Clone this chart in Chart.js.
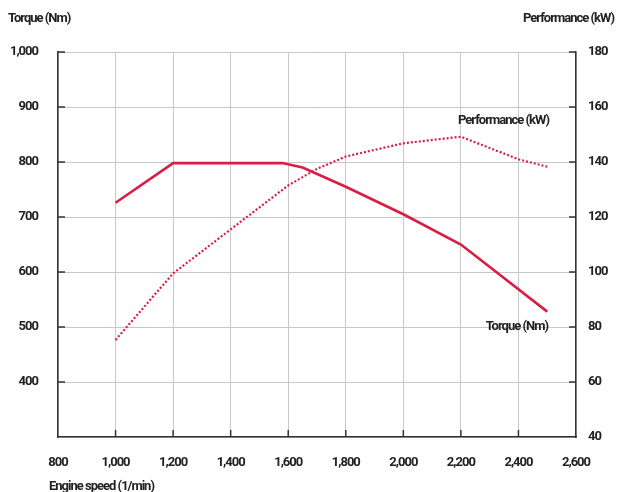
<!DOCTYPE html>
<html>
<head>
<meta charset="utf-8">
<script src="https://cdn.jsdelivr.net/npm/chart.js@4/dist/chart.umd.min.js"></script>
<style>
  html, body { margin: 0; padding: 0; background: #fff; }
  canvas { display: block; }
</style>
</head>
<body>
<canvas id="engineChart" width="617" height="492"></canvas>
<script>
const speedTicks = [800, 1000, 1200, 1400, 1600, 1800, 2000, 2200, 2400, 2600];
const torqueTicks = [400, 500, 600, 700, 800, 900, 1000];
const powerTicks = [40, 60, 80, 100, 120, 140, 160, 180];

const torqueSpeed = [1000, 1200, 1580, 1650, 1800, 2000, 2200, 2500];
const torqueValues = [726, 798, 798, 790, 755, 705, 650, 528];

const powerSpeed = [1000, 1200, 1400, 1600, 1700, 1800, 2000, 2200, 2400, 2500];
const powerValues = [75.3, 99.5, 115.5, 131.5, 137.5, 142, 146.8, 149.2, 141, 138.3];

const RED = '#d81e45';
const FONT = "Roboto, 'Liberation Sans', sans-serif";
const fmt = v => v.toLocaleString('en-US');

const labelsPlugin = {
  id: 'labels',
  beforeDraw(chart) {
    chart.ctx.letterSpacing = '-1px';
  },
  afterDraw(chart) {
    const { ctx, chartArea, scales } = chart;
    ctx.save();
    ctx.fillStyle = '#222';
    ctx.font = `bold 13px ${FONT}`;
    ctx.textBaseline = 'middle';

    // short inner tick marks on the axes
    ctx.strokeStyle = '#333';
    ctx.lineWidth = 1.5;
    torqueTicks.forEach(t => {
      const y = scales.y.getPixelForValue(t);
      ctx.beginPath();
      ctx.moveTo(chartArea.left, y);
      ctx.lineTo(chartArea.left + 7, y);
      ctx.stroke();
      ctx.beginPath();
      ctx.moveTo(chartArea.right, y);
      ctx.lineTo(chartArea.right - 7, y);
      ctx.stroke();
    });
    speedTicks.slice(1, -1).forEach(t => {
      const x = scales.x.getPixelForValue(t);
      ctx.beginPath();
      ctx.moveTo(x, chartArea.bottom);
      ctx.lineTo(x, chartArea.bottom - 7);
      ctx.stroke();
    });

    ctx.textAlign = 'left';
    ctx.fillText('Torque (Nm)', 8, 19);
    ctx.fillText('Engine speed (1/min)', 49, 487);
    ctx.textAlign = 'right';
    ctx.fillText('Performance (kW)', 614, 19);
    ctx.fillText('Performance (kW)', 549, 121);
    ctx.fillText('Torque (Nm)', 548, 327);
    ctx.restore();
  }
};

const tickFont = { family: FONT, size: 13, weight: 'bold' };

new Chart(document.getElementById('engineChart'), {
  type: 'line',
  data: {
    datasets: [
      {
        label: 'Torque (Nm)',
        data: torqueSpeed.map((x, i) => ({ x, y: torqueValues[i] })),
        borderColor: RED,
        borderWidth: 2.6,
        pointRadius: 0,
        tension: 0,
        yAxisID: 'y',
      },
      {
        label: 'Performance (kW)',
        data: powerSpeed.map((x, i) => ({ x, y: powerValues[i] })),
        borderColor: RED,
        borderWidth: 2.2,
        borderDash: [2, 2],
        pointRadius: 0,
        tension: 0,
        yAxisID: 'y1',
      },
    ],
  },
  options: {
    responsive: false,
    animation: false,
    layout: { padding: { top: 52, right: 0, left: 0, bottom: 0 } },
    plugins: {
      legend: { display: false },
      tooltip: { enabled: false },
    },
    scales: {
      x: {
        type: 'linear',
        min: 800,
        max: 2600,
        afterBuildTicks: scale => { scale.ticks = speedTicks.map(value => ({ value })); },
        afterFit: scale => { scale.height = 55; },
        ticks: {
          callback: fmt,
          color: '#222',
          padding: 18,
          maxRotation: 0,
          font: tickFont,
        },
        grid: { color: '#c8c8c8', drawTicks: false },
        border: { color: '#333', width: 1.5 },
      },
      y: {
        position: 'left',
        min: 300,
        max: 1000,
        afterBuildTicks: scale => { scale.ticks = [300, ...torqueTicks].map(value => ({ value })); },
        afterFit: scale => { scale.width = 58; },
        ticks: {
          callback: v => (v === 300 ? '' : fmt(v)),
          color: '#222',
          padding: 20,
          font: tickFont,
        },
        grid: { color: '#c8c8c8', drawTicks: false },
        border: { color: '#333', width: 1.5 },
      },
      y1: {
        position: 'right',
        min: 40,
        max: 180,
        afterBuildTicks: scale => { scale.ticks = powerTicks.map(value => ({ value })); },
        afterFit: scale => { scale.width = 41; },
        ticks: {
          color: '#222',
          padding: 12,
          font: tickFont,
        },
        grid: { display: false, drawTicks: false },
        border: { color: '#333', width: 1.5 },
      },
    },
  },
  plugins: [labelsPlugin],
});
</script>
</body>
</html>
